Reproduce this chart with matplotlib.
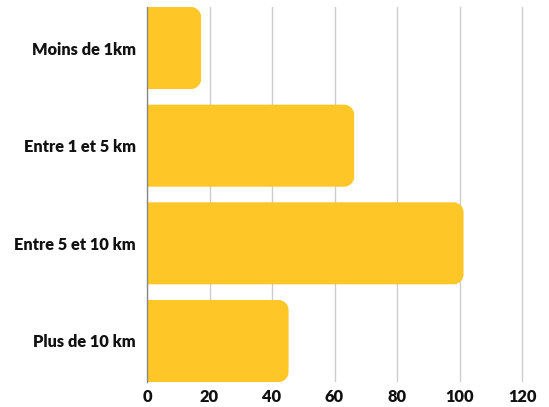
import matplotlib
matplotlib.use("Agg")
import matplotlib.pyplot as plt
from matplotlib.path import Path
from matplotlib.patches import PathPatch

# ---- Data ----
categories = ["Moins de 1km", "Entre 1 et 5 km", "Entre 5 et 10 km", "Plus de 10 km"]
values = [17.3, 66.3, 101.3, 45.3]
x_ticks = [0, 20, 40, 60, 80, 100, 120]

BAR_COLOR = "#FFC627"


def rounded_right(x, y, w, h, rx, ry):
    """Path of a bar with its right corners rounded (data units)."""
    k = 0.55
    verts = [
        (x, y), (x + w - rx, y),
        (x + w - rx + k * rx, y), (x + w, y + ry - k * ry), (x + w, y + ry),
        (x + w, y + h - ry),
        (x + w, y + h - ry + k * ry), (x + w - rx + k * rx, y + h), (x + w - rx, y + h),
        (x, y + h), (x, y),
    ]
    codes = [Path.MOVETO, Path.LINETO,
             Path.CURVE4, Path.CURVE4, Path.CURVE4,
             Path.LINETO,
             Path.CURVE4, Path.CURVE4, Path.CURVE4,
             Path.LINETO, Path.CLOSEPOLY]
    return Path(verts, codes)


fig = plt.figure(figsize=(5.49, 4.07), dpi=100)
# 3.125 px per unit, xlim 0..121 so the 120 gridline is not clipped
ax = fig.add_axes([147 / 549, 1 - 382 / 407, 121 * 3.125 / 549, (382 - 7) / 407])

ax.set_xlim(0, 121)
ax.set_ylim(3.42, -0.42)

bars = ax.barh(range(len(categories)), values, height=0.84, color=BAR_COLOR)

# replace plain bars with right-rounded ones (radius ~10px)
px_x = 3.125
px_y = (382 - 7) / 3.84
for b in bars:
    x, y, w, h = b.get_x(), b.get_y(), b.get_width(), b.get_height()
    rx = min(10 / px_x, w / 2)
    ry = 10 / px_y
    b.set_visible(False)
    ax.add_patch(PathPatch(rounded_right(x, y, w, h, rx, ry),
                           facecolor=BAR_COLOR, edgecolor="none", zorder=2))

ax.set_yticks(range(len(categories)))
ax.set_yticklabels(categories)
ax.set_xticks(x_ticks)
ax.set_xticklabels([str(t) for t in x_ticks])

for lbl in ax.get_yticklabels() + ax.get_xticklabels():
    lbl.set_family(["Lato", "DejaVu Sans"])
    lbl.set_fontweight("heavy")
    lbl.set_fontsize(11.8)
    lbl.set_color("#111111")

ax.tick_params(axis="both", length=0)
ax.tick_params(axis="y", pad=8)
ax.tick_params(axis="x", pad=5)

ax.grid(axis="x", color="#cccccc", linewidth=1)
ax.set_axisbelow(True)
for s in ["top", "right", "bottom"]:
    ax.spines[s].set_visible(False)
ax.spines["left"].set_color("#888888")
ax.spines["left"].set_linewidth(1)

fig.savefig("out.png", dpi=100)
